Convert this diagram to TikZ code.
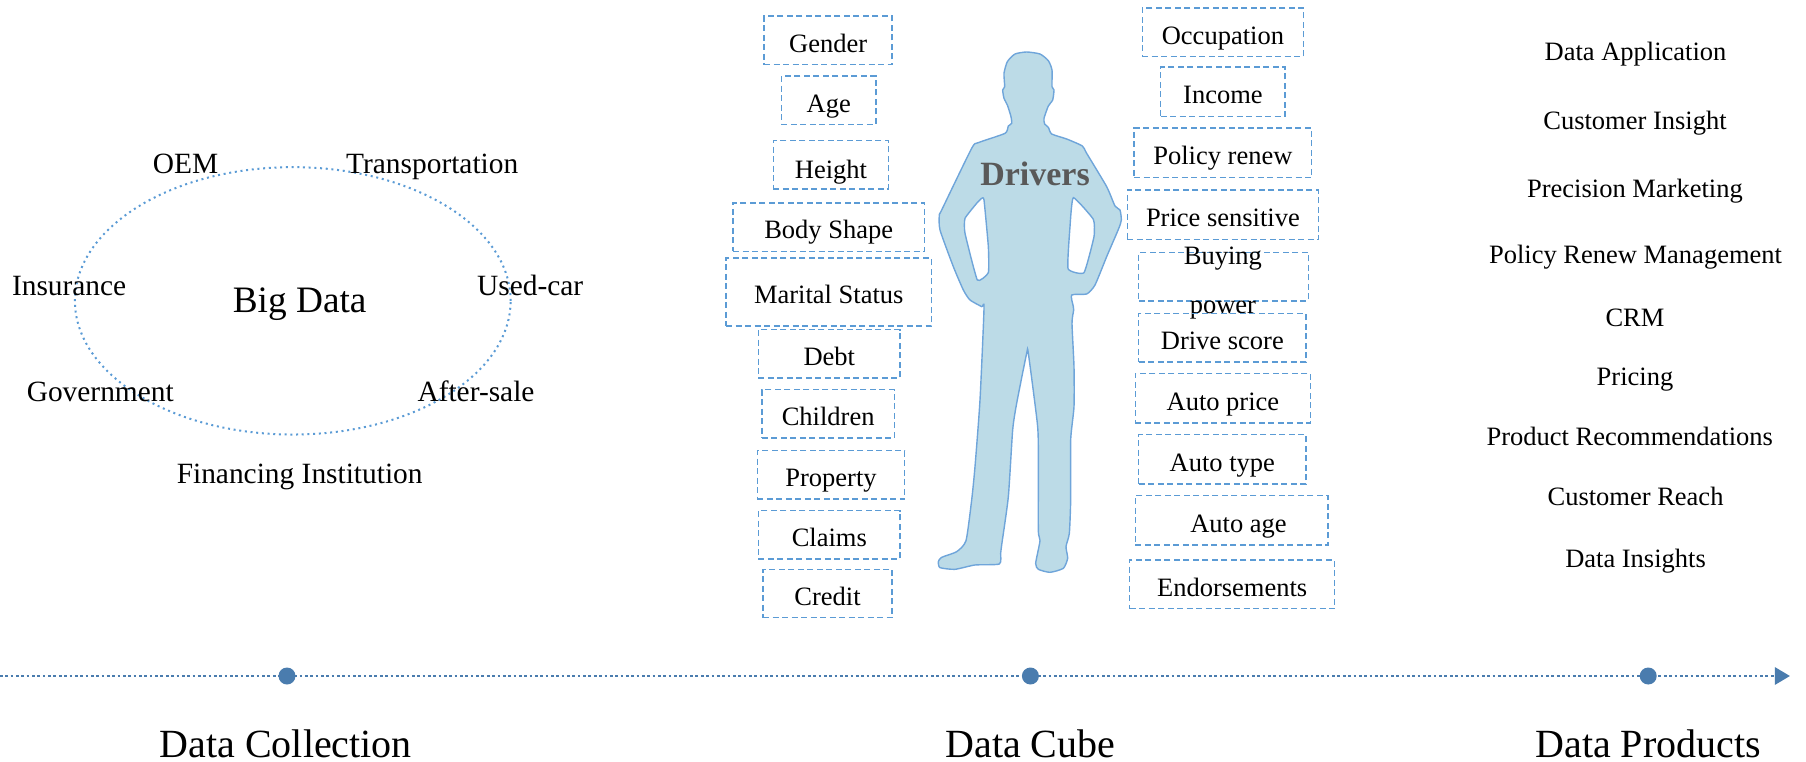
\documentclass[tikz,border=0pt]{standalone}
\usepackage{fontspec}
\setmainfont{Liberation Serif}
\usetikzlibrary{arrows.meta,shapes.geometric}
\definecolor{boxblue}{HTML}{5B9BD5}
\definecolor{axisblue}{HTML}{4A7CAE}
\definecolor{bodyfill}{HTML}{BCDBE7}
\definecolor{bodyline}{HTML}{6FA5DA}
\definecolor{drivergray}{HTML}{595959}
\tikzset{
  dbox/.style={draw=boxblue,line width=1.4pt,dash pattern=on 6pt off 3.5pt,inner sep=0pt,text height=23.6pt,text depth=0pt,font=\fontsize{26.5}{30}\selectfont},
  lbl/.style={inner sep=0pt,text height=21pt,text depth=2pt,font=\fontsize{26.5}{30}\selectfont},
  lblb/.style={inner sep=0pt,text height=23pt,text depth=2pt,font=\fontsize{29.4}{33}\selectfont},
  bigl/.style={inner sep=0pt,font=\fontsize{40}{44}\selectfont},
  mark dot/.style={circle,fill=axisblue,minimum size=17pt,inner sep=0pt},
}
\newcommand{\dbx}[6]{%
  \pgfmathsetmacro{\bw}{(#4-#2)*1.1526}%
  \pgfmathsetmacro{\bh}{(#5-#3)*1.1526}%
  \node[dbox,minimum width=\bw pt,minimum height=\bh pt] (#1) at ({(#2+#4)/2},{(#3+#5)/2}) {#6};%
}
\begin{document}
\begin{tikzpicture}[x=1.1526pt,y=-1.1526pt]
\useasboundingbox (0,0) rectangle (1566.9,661.1);
% person
\begin{scope}[shift={(798.2,34.7)},x=0.33333pt,y=-0.33333pt]
\filldraw[fill=bodyfill,draw=bodyline,line width=1.4pt,even odd rule]
 plot[smooth cycle,tension=.35] coordinates {
 (320,36) (360,42) (385,62) (396,90) (396,140) (402,150) (398,180) (385,198) (372,235) (374,252) (385,262) (395,282) (440,297) (487,318) (500,340) (560,440) (585,498) (600,510) (604,540) (596,566) (560,650) (525,735) (500,762) (455,765) (460,800) (461,810) (456,850) (462,980) (462,1100) (452,1200) (452,1380) (448,1480) (438,1520) (443,1555) (430,1585) (390,1597) (355,1588) (347,1570) (360,1502) (355,1470) (355,1230) (352,1150) (325,940) (320,940) (290,1090) (278,1170) (265,1370) (245,1515) (242,1540) (238,1572) (165,1575) (105,1588) (60,1583) (55,1565) (65,1552) (110,1535) (138,1502) (155,1380) (165,1280) (180,1080) (192,805) (185,800) (150,780) (130,750) (100,680) (60,570) (58,525) (65,510) (155,325) (175,308) (255,280) (265,258) (275,250) (273,230) (262,195) (252,175) (248,150) (254,140) (252,100) (262,65) (285,42)}
 plot[smooth cycle,tension=.25] coordinates {(185,475) (192,480) (205,620) (205,698) (172,720) (135,580) (135,535) (170,490)}
 plot[smooth cycle,tension=.25] coordinates {(460,473) (520,538) (522,590) (492,698) (444,686) (450,560)};
\end{scope}
\node[inner sep=0pt,text=drivergray,font=\fontsize{34}{38}\selectfont\bfseries] (drivers) at (898,151) {Drivers};
% left boxes
\dbx{gender}{663}{14}{774}{56}{Gender}
\dbx{age}{678}{66}{760}{108}{Age}
\dbx{height}{671}{122}{771}{164}{\raisebox{-1.5pt}{Height}}
\dbx{body}{636}{176}{802}{218}{Body Shape}
\dbx{marital}{630}{224}{808}{283}{Marital Status}
\dbx{debt}{658}{286}{781}{328}{Debt}
\dbx{children}{661}{338}{776}{380}{Children}
\dbx{property}{657}{391}{785}{433}{Property}
\dbx{claims}{658}{443}{781}{485}{Claims}
\dbx{credit}{662}{494}{774}{536}{Credit}
% right boxes
\dbx{occupation}{991}{7}{1131}{49}{Occupation}
\dbx{income}{1007}{58}{1115}{101}{Income}
\dbx{renew}{984}{111}{1138}{154}{Policy renew}
\dbx{sensitive}{978}{165}{1144}{208}{Price sensitive}
\dbx{buying}{988}{219}{1135}{261}{}
\node[inner sep=0pt,align=center,font=\fontsize{26.5}{48.5}\selectfont] (buyingtext) at (1061,245.5) {Buying\\power};
\dbx{drive}{988}{272}{1133}{314}{Drive score}
\dbx{autoprice}{985}{324}{1137}{367}{Auto price}
\dbx{autotype}{988}{377}{1133}{420}{Auto type}
\dbx{autoage}{985}{430}{1152}{473}{\hspace*{14pt}Auto age}
\dbx{endorse}{980}{486}{1158}{528}{Endorsements}
% big data
\node[ellipse,draw=boxblue,line width=2pt,dash pattern=on 2pt off 3.7pt,minimum width=435.7pt,minimum height=267.4pt,inner sep=0pt] (ring) at (254,261) {};
\node[inner sep=0pt,font=\fontsize{37.3}{40}\selectfont] (bigdata) at (260,264) {Big Data};
\node[lblb] (oem) at (161,141) {OEM};
\node[lblb] (transport) at (375,141) {Transportation};
\node[lblb] (insurance) at (60,247) {Insurance};
\node[lblb] (usedcar) at (460,247) {Used-car};
\node[lblb] (government) at (87,339) {Government};
\node[lblb] (aftersale) at (413,339) {After-sale};
\node[lblb] (financing) at (260,410) {Financing Institution};
% products
\node[lbl] (p1) at (1419,44) {Data Application};
\node[lbl] (p2) at (1418.5,104) {Customer Insight};
\node[lbl] (p3) at (1418.5,163) {Precision Marketing};
\node[lbl] (p4) at (1419,220) {Policy Renew Management};
\node[lbl] (p5) at (1418.5,275) {CRM};
\node[lbl] (p6) at (1418.5,326) {Pricing};
\node[lbl] (p7) at (1414,378) {Product Recommendations};
\node[lbl] (p8) at (1419,430) {Customer Reach};
\node[lbl] (p9) at (1419,484) {Data Insights};
% axis
\coordinate (axstart) at (0,586.5);
\coordinate (axend) at (1553,586.5);
\draw[axisblue,line width=2.7pt,dash pattern=on 2.7pt off 2.65pt,-{Triangle[length=15pt,width=17pt]}] (axstart) -- (axend);
\node[mark dot] (m1) at (249,586.5) {};
\node[mark dot] (m2) at (894,586.5) {};
\node[mark dot] (m3) at (1430,586.5) {};
\node[bigl] (l1) at (248,645.5) {Data Collection};
\node[bigl] (l2) at (894,645.5) {Data Cube};
\node[bigl] (l3) at (1430,645.5) {Data Products};
\end{tikzpicture}
\end{document}
